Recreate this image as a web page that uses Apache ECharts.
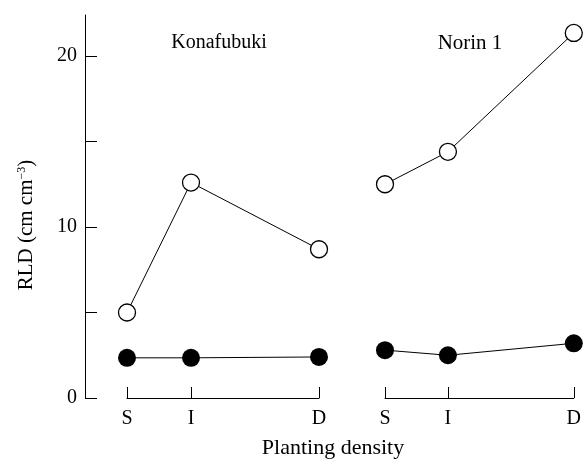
<!DOCTYPE html>
<html>
<head>
<meta charset="utf-8">
<script src="https://cdn.jsdelivr.net/npm/echarts@6/dist/echarts.min.js"></script>
<style>
  html, body { margin: 0; padding: 0; background: #fff; }
  #chart { width: 584px; height: 464px; }
</style>
</head>
<body>
<div id="chart"></div>
<script>
// planting density positions: S=0, I=1, D=3
const densityLabels = ['S', 'I', 'D'];
const densityPos = [0, 1, 3];
const yTicks = [0, 5, 10, 15, 20];
const yLabels = [0, 10, 20];

const konaOpen = [5.0, 12.6, 8.7];
const konaFilled = [2.35, 2.35, 2.4];
const norinOpen = [12.5, 14.4, 21.35];
const norinFilled = [2.8, 2.5, 3.2];

const font = 'Liberation Serif';
const yMax = 22.4;

const chart = echarts.init(document.getElementById('chart'));

const pairs = (vals) => vals.map((v, i) => [densityPos[i], v]);

const panelX = (idx) => ({
  gridIndex: idx,
  type: 'value',
  min: 0,
  max: 3,
  axisLine: { show: true, lineStyle: { color: '#000', width: 1 } },
  axisTick: { show: true, inside: true, length: 11, customValues: densityPos, lineStyle: { color: '#000' } },
  axisLabel: {
    customValues: densityPos,
    margin: 11,
    color: '#000',
    fontFamily: font,
    fontSize: 20,
    formatter: (v) => densityLabels[densityPos.indexOf(v)]
  },
  splitLine: { show: false }
});

const hiddenY = (idx) => ({
  gridIndex: idx, type: 'value', min: 0, max: yMax, show: false
});

const openStyle = { color: '#fff', borderColor: '#000', borderWidth: 1.3 };
const lineStyle = { color: '#000', width: 1 };

chart.setOption({
  animation: false,
  backgroundColor: '#fff',
  grid: [
    { left: 85, right: 0, top: 15, bottom: 66 },
    { left: 127, width: 192, top: 15, bottom: 66 },
    { left: 385, width: 192, top: 15, bottom: 66 }
  ],
  xAxis: [
    { gridIndex: 0, type: 'value', min: 0, max: 1, show: false },
    panelX(1),
    panelX(2)
  ],
  yAxis: [
    {
      gridIndex: 0,
      type: 'value',
      min: 0,
      max: yMax,
      axisLine: { show: true, lineStyle: { color: '#000', width: 1 } },
      axisTick: { show: true, inside: true, length: 12, customValues: yTicks, lineStyle: { color: '#000' } },
      axisLabel: { customValues: yLabels, margin: 8, color: '#000', fontFamily: font, fontSize: 20 },
      splitLine: { show: false }
    },
    hiddenY(1),
    hiddenY(2)
  ],
  graphic: [
    {
      type: 'text', x: 26, y: 225, rotation: Math.PI / 2,
      style: {
        text: 'RLD (cm cm{sup|−3})',
        fontFamily: font, fontSize: 21, fill: '#000',
        align: 'center', verticalAlign: 'middle',
        rich: { sup: { fontFamily: font, fontSize: 12, verticalAlign: 'top', fill: '#000' } }
      }
    },
    {
      type: 'text', x: 219, y: 43,
      style: { text: 'Konafubuki', fontFamily: font, fontSize: 20, fill: '#000', align: 'center', verticalAlign: 'middle' }
    },
    {
      type: 'text', x: 470, y: 43,
      style: { text: 'Norin 1', fontFamily: font, fontSize: 21, fill: '#000', align: 'center', verticalAlign: 'middle' }
    },
    {
      type: 'text', x: 333, y: 448,
      style: { text: 'Planting density', fontFamily: font, fontSize: 22, fill: '#000', align: 'center', verticalAlign: 'middle' }
    }
  ],
  series: [
    { type: 'line', xAxisIndex: 1, yAxisIndex: 1, data: pairs(konaOpen), symbol: 'circle', symbolSize: 17, itemStyle: openStyle, lineStyle },
    { type: 'line', xAxisIndex: 1, yAxisIndex: 1, data: pairs(konaFilled), symbol: 'circle', symbolSize: 18, itemStyle: { color: '#000' }, lineStyle },
    { type: 'line', xAxisIndex: 2, yAxisIndex: 2, data: pairs(norinOpen), symbol: 'circle', symbolSize: 17, itemStyle: openStyle, lineStyle },
    { type: 'line', xAxisIndex: 2, yAxisIndex: 2, data: pairs(norinFilled), symbol: 'circle', symbolSize: 18, itemStyle: { color: '#000' }, lineStyle }
  ]
});
</script>
</body>
</html>
